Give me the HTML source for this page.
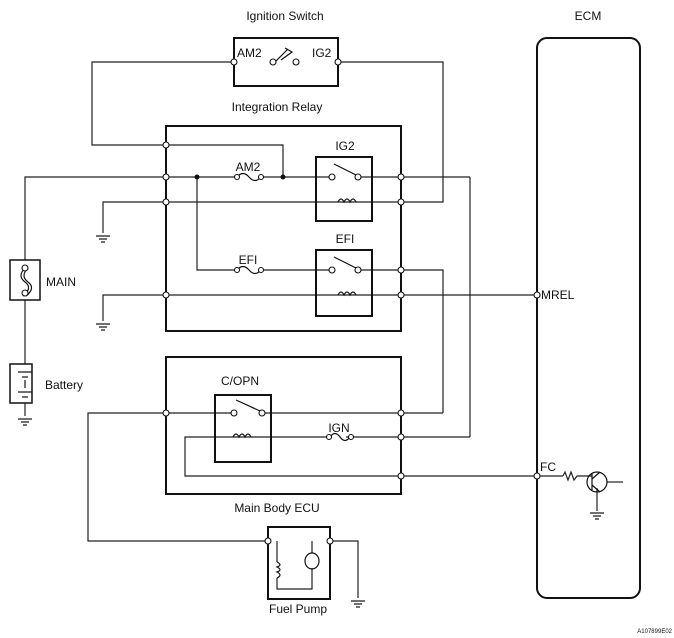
<!DOCTYPE html>
<html><head><style>body{margin:0;background:#fff}svg{display:block}text{font-family:"Liberation Sans",sans-serif;fill:#111}</style></head><body>
<svg width="674" height="638" viewBox="0 0 674 638" xmlns="http://www.w3.org/2000/svg">
<g fill="none" stroke="#222" stroke-width="1.2">
<!-- ignition switch wiring -->
<polyline points="234,62 92,62 92,145 283,145 283,177"/>
<polyline points="338,62 443,62 443,202 401,202"/>
<!-- row 177 -->
<polyline points="25,260 25,177 234,177"/>
<line x1="261" y1="177" x2="332" y2="177"/>
<line x1="358" y1="177" x2="470" y2="177"/>
<line x1="470" y1="177" x2="470" y2="437"/>
<!-- row 202 -->
<polyline points="103,233 103,202 401,202"/>
<!-- EFI -->
<polyline points="197,177 197,270 234,270"/>
<line x1="261" y1="270" x2="332" y2="270"/>
<polyline points="358,270 443,270 443,413"/>
<polyline points="103,321 103,295 537,295"/>
<!-- battery chain -->
<line x1="25" y1="300" x2="25" y2="364"/>
<line x1="25" y1="403" x2="25" y2="416"/>
<!-- main body -->
<polyline points="268,541 88,541 88,413 234,413"/>
<line x1="262" y1="413" x2="443" y2="413"/>
<polyline points="470,437 346,437"/>
<polyline points="327,437 185,437 185,476 537,476"/>
<!-- FC -->
<line x1="537" y1="476" x2="563" y2="476"/>
<polyline points="563,476 565,472 568,480 571,472 574,480 577,476 587,476"/>
<line x1="607" y1="482" x2="623" y2="482"/>
<line x1="597" y1="488" x2="597" y2="511"/>
<!-- fuel pump -->
<polyline points="330,541 358,541 358,598"/>
<polyline points="277,541 277,562"/>
<polyline points="277,578 277,589 312,589 312,568"/>
<line x1="312" y1="541" x2="312" y2="553"/>
</g>
<!-- boxes -->
<g fill="none" stroke="#111" stroke-width="2">
<rect x="234" y="38" width="104" height="48"/>
<rect x="166" y="126" width="235" height="205"/>
<rect x="316" y="157" width="56" height="64"/>
<rect x="316" y="250" width="56" height="66"/>
<rect x="166" y="357" width="235" height="137"/>
<rect x="215" y="395" width="56" height="67"/>
<rect x="268" y="527" width="62" height="72"/>
<rect x="537" y="38" width="103" height="560" rx="10"/>
<rect x="10" y="260" width="30" height="40" stroke-width="1.5"/>
<rect x="10" y="364" width="22" height="39" stroke-width="1.5"/>
</g>
<!-- switches -->
<g fill="none" stroke="#111" stroke-width="1.2">
<line x1="275" y1="62" x2="288" y2="49"/><polyline points="285,48 292,52 281,60"/>
<line x1="334" y1="164" x2="356" y2="175"/>
<line x1="334" y1="257" x2="356" y2="268"/>
<line x1="236" y1="400" x2="260" y2="411"/>
<!-- fuses -->
<path d="M237,177 q6,-7 12,0 q6,7 12,0"/><path d="M237,270 q6,-7 12,0 q6,7 12,0"/><path d="M330,437 q5,-7 10,0 q5,7 10,0"/>
<!-- coils -->
<path d="M338,202 q3,-6 6,0 q3,-6 6,0 q3,-6 6,0"/><path d="M338,295 q3,-6 6,0 q3,-6 6,0 q3,-6 6,0"/><path d="M233,437 q3,-6 6,0 q3,-6 6,0 q3,-6 6,0"/>
<path d="M277,562 q6,3 0,5 q6,3 0,5 q6,3 0,6"/>
<!-- main fuse -->
<path d="M25,268 q-8,8 0,14 q8,6 -2,14"/><path d="M28,268 q-8,8 0,14 q8,6 -2,14"/>
<!-- battery -->
<line x1="18" y1="372" x2="32" y2="372"/><line x1="22" y1="377" x2="28" y2="377"/><line x1="25" y1="380" x2="25" y2="388"/><line x1="18" y1="392" x2="32" y2="392"/><line x1="22" y1="397" x2="28" y2="397"/>
<!-- motor -->
<ellipse cx="312" cy="561" rx="7" ry="8"/>
<!-- transistor -->
<circle cx="597" cy="482" r="10"/><line x1="592" y1="474" x2="592" y2="490"/><line x1="587" y1="476" x2="592" y2="476"/><line x1="592" y1="479" x2="600" y2="472"/><line x1="592" y1="485" x2="600" y2="492"/>
</g>
<!-- grounds -->
<g stroke="#111" stroke-width="1.2">
<line x1="96" y1="236" x2="110" y2="236"/><line x1="99" y1="239" x2="107" y2="239"/><line x1="101" y1="242" x2="105" y2="242"/>
<line x1="96" y1="324" x2="110" y2="324"/><line x1="99" y1="327" x2="107" y2="327"/><line x1="101" y1="330" x2="105" y2="330"/>
<line x1="18" y1="419" x2="32" y2="419"/><line x1="21" y1="422" x2="29" y2="422"/><line x1="23" y1="425" x2="27" y2="425"/>
<line x1="351" y1="601" x2="365" y2="601"/><line x1="354" y1="604" x2="362" y2="604"/><line x1="356" y1="607" x2="360" y2="607"/>
<line x1="590" y1="513" x2="604" y2="513"/><line x1="593" y1="516" x2="601" y2="516"/><line x1="595" y1="519" x2="599" y2="519"/>
</g>
<!-- terminals -->
<g fill="#fff" stroke="#111" stroke-width="1.1">
<circle cx="234" cy="62" r="3"/><circle cx="338" cy="62" r="3"/><circle cx="273" cy="62" r="3"/><circle cx="296" cy="62" r="3"/>
<circle cx="166" cy="145" r="3"/><circle cx="166" cy="177" r="3"/><circle cx="166" cy="202" r="3"/><circle cx="166" cy="295" r="3"/>
<circle cx="401" cy="177" r="3"/><circle cx="401" cy="202" r="3"/><circle cx="401" cy="270" r="3"/><circle cx="401" cy="295" r="3"/>
<circle cx="332" cy="177" r="3"/><circle cx="358" cy="177" r="3"/><circle cx="332" cy="270" r="3"/><circle cx="358" cy="270" r="3"/>
<circle cx="237" cy="177" r="2.5"/><circle cx="261" cy="177" r="2.5"/><circle cx="237" cy="270" r="2.5"/><circle cx="261" cy="270" r="2.5"/>
<circle cx="329" cy="437" r="2.5"/><circle cx="351" cy="437" r="2.5"/>
<circle cx="166" cy="413" r="3"/><circle cx="234" cy="413" r="3"/><circle cx="262" cy="413" r="3"/>
<circle cx="401" cy="413" r="3"/><circle cx="401" cy="437" r="3"/><circle cx="401" cy="476" r="3"/>
<circle cx="537" cy="295" r="3"/><circle cx="537" cy="476" r="3"/>
<circle cx="268" cy="541" r="3"/><circle cx="330" cy="541" r="3"/>
<circle cx="25" cy="268" r="3"/><circle cx="25" cy="293" r="3"/>
</g>
<circle cx="197" cy="177" r="2.5" fill="#111"/><circle cx="283" cy="177" r="2.5" fill="#111"/>
<g font-size="12">
<text x="285" y="20" text-anchor="middle">Ignition Switch</text>
<text x="237" y="57">AM2</text><text x="312" y="57">IG2</text>
<text x="277" y="111" text-anchor="middle">Integration Relay</text>
<text x="345" y="150" text-anchor="middle">IG2</text>
<text x="248" y="171" text-anchor="middle">AM2</text>
<text x="345" y="243" text-anchor="middle">EFI</text>
<text x="248" y="264" text-anchor="middle">EFI</text>
<text x="46" y="286">MAIN</text>
<text x="45" y="389">Battery</text>
<text x="240" y="385" text-anchor="middle">C/OPN</text>
<text x="339" y="432" text-anchor="middle">IGN</text>
<text x="277" y="512" text-anchor="middle">Main Body ECU</text>
<text x="298" y="613" text-anchor="middle">Fuel Pump</text>
<text x="588" y="20" text-anchor="middle">ECM</text>
<text x="541" y="299">MREL</text>
<text x="540" y="471">FC</text>
<text x="672" y="633" text-anchor="end" font-size="6">A107899E02</text>
</g>
</svg>
</body></html>
